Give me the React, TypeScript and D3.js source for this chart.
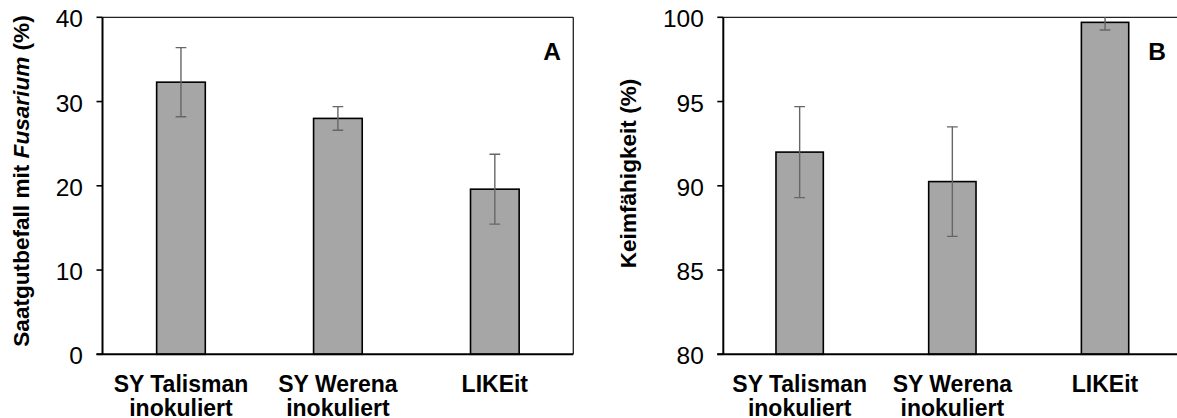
import React from "react";
import * as d3 from "d3";

const categories: string[][] = [["SY Talisman", "inokuliert"], ["SY Werena", "inokuliert"], ["LIKEit"]];
const fusariumMean = [32.3, 28.0, 19.6];
const fusariumErr = [4.1, 1.4, 4.15];
const germMean = [92.0, 90.25, 99.7];
const germErr = [2.7, 3.25, 0.45];
const ticksA = [0, 10, 20, 30, 40];
const ticksB = [80, 85, 90, 95, 100];

const W = 1177;
const H = 418;
const TOP = 17.3;
const BOTTOM = 354.3;
const FONT = "Arial, 'Liberation Sans', sans-serif";

type PanelProps = {
  id: string;
  left: number;
  right: number;
  domain: [number, number];
  ticks: number[];
  means: number[];
  errs: number[];
  letter: string;
  letterX: number;
  titleX: number;
  titleY: number;
  title: React.ReactNode;
  showRight: boolean;
};

function Panel(p: PanelProps) {
  const x = d3
    .scaleBand<number>()
    .domain(categories.map((_, i) => i))
    .range([p.left, p.right])
    .paddingInner(0.69)
    .paddingOuter(0.345);
  const y = d3.scaleLinear().domain(p.domain).range([BOTTOM, TOP]);
  const bw = x.bandwidth();
  const capW = 10.7;
  return (
    <g>
      <defs>
        <clipPath id={`clip-${p.id}`}>
          <rect x={p.left} y={TOP} width={p.right - p.left} height={BOTTOM - TOP} />
        </clipPath>
      </defs>
      <line x1={p.left} x2={p.right} y1={TOP} y2={TOP} stroke="#222" strokeWidth={1.3} />
      {p.showRight && (
        <line x1={p.right} x2={p.right} y1={TOP} y2={BOTTOM} stroke="#222" strokeWidth={1.3} />
      )}
      {p.means.map((m, i) => (
        <rect
          key={i}
          x={x(i)!}
          y={y(m)}
          width={bw}
          height={BOTTOM - y(m)}
          fill="#a6a6a6"
          stroke="#000"
          strokeWidth={1.6}
        />
      ))}
      <g clipPath={`url(#clip-${p.id})`} stroke="#666" strokeWidth={1.4}>
        {p.means.map((m, i) => {
          const cx = x(i)! + bw / 2;
          const y1 = y(m + p.errs[i]);
          const y2 = y(m - p.errs[i]);
          return (
            <g key={i}>
              <line x1={cx} x2={cx} y1={y1} y2={y2} />
              <line x1={cx - capW / 2} x2={cx + capW / 2} y1={y1} y2={y1} />
              <line x1={cx - capW / 2} x2={cx + capW / 2} y1={y2} y2={y2} />
            </g>
          );
        })}
      </g>
      <line x1={p.left} x2={p.left} y1={TOP} y2={BOTTOM} stroke="#000" strokeWidth={2} />
      <line x1={p.left - 6} x2={p.right} y1={BOTTOM} y2={BOTTOM} stroke="#000" strokeWidth={2} />
      {p.ticks.map((t) => (
        <g key={t}>
          <line x1={p.left - 6} x2={p.left} y1={y(t)} y2={y(t)} stroke="#000" strokeWidth={1.6} />
          <text
            x={p.left - 19.5}
            y={y(t) + 10}
            textAnchor="end"
            fontFamily={FONT}
            fontSize={24.5}
            fill="#000"
          >
            {t}
          </text>
        </g>
      ))}
      {categories.map((lines, i) => (
        <text
          key={i}
          x={x(i)! + bw / 2}
          textAnchor="middle"
          fontFamily={FONT}
          fontSize={23}
          fontWeight="bold"
          fill="#000"
        >
          {lines.map((l, j) => (
            <tspan key={j} x={x(i)! + bw / 2} y={391.5 + j * 24.5}>
              {l}
            </tspan>
          ))}
        </text>
      ))}
      <text x={p.letterX} y={60} textAnchor="middle" fontFamily={FONT} fontSize={24.5} fontWeight="bold">
        {p.letter}
      </text>
      <text
        transform={`translate(${p.titleX},${p.titleY}) rotate(-90)`}
        textAnchor="middle"
        fontFamily={FONT}
        fontSize={22.6}
        fontWeight="bold"
        fill="#000"
      >
        {p.title}
      </text>
    </g>
  );
}

export default function App() {
  return (
    <svg
      width={W}
      height={H}
      viewBox={`0 0 ${W} ${H}`}
      style={{ position: "absolute", left: 0, top: 0, background: "#fff" }}
    >
      <rect x={0} y={0} width={W} height={H} fill="#fff" />
      <Panel
        id="a"
        left={102.5}
        right={573.3}
        domain={[0, 40]}
        ticks={ticksA}
        means={fusariumMean}
        errs={fusariumErr}
        letter="A"
        letterX={552}
        titleX={29}
        titleY={181}
        showRight={true}
        title={
          <>
            Saatgutbefall mit <tspan fontStyle="italic">Fusarium</tspan> (%)
          </>
        }
      />
      <Panel
        id="b"
        left={723.3}
        right={1181.4}
        domain={[80, 100]}
        ticks={ticksB}
        means={germMean}
        errs={germErr}
        letter="B"
        letterX={1157}
        titleX={635.5}
        titleY={173.5}
        showRight={false}
        title={<>Keimfähigkeit (%)</>}
      />
    </svg>
  );
}
